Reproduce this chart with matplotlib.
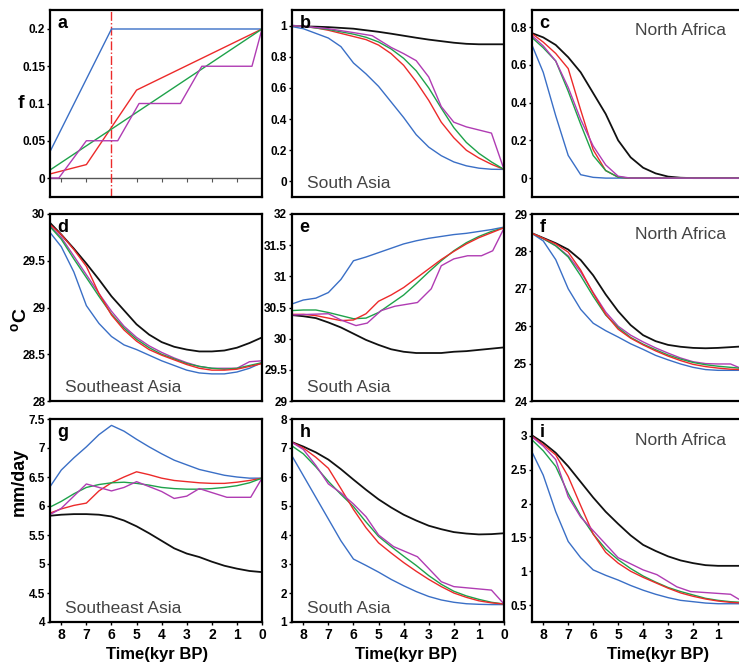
import matplotlib
matplotlib.use("Agg")
import matplotlib.pyplot as plt

plt.rcParams['font.family'] = ['Liberation Sans Narrow', 'Liberation Sans', 'DejaVu Sans']
plt.rcParams['mathtext.fontset'] = 'custom'
plt.rcParams['mathtext.bf'] = 'Liberation Sans:bold'

# common time grid (kyr BP)
t = [8.5, 8, 7.5, 7, 6.5, 6, 5.5, 5, 4.5, 4, 3.5, 3, 2.5, 2, 1.5, 1, 0.5, 0]
x_ticks = [8, 7, 6, 5, 4, 3, 2, 1, 0]

# ---- row 1: vegetation fraction f ----
a_black = [0] * len(t)
a_blue_t = [8.5, 6, 0]
a_blue = [0.032, 0.2, 0.2]
a_red_t = [8.5, 7, 5, 0]
a_red = [0.005, 0.018, 0.118, 0.2]
a_green_t = [8.5, 0]
a_green = [0.0096, 0.2]
a_mag_t = [8.5, 8.1, 7, 5.75, 4.9, 3.25, 2.4, 0.4, 0]
a_mag = [0, 0, 0.05, 0.05, 0.1, 0.1, 0.15, 0.15, 0.2]

b_black = [1.0, 0.995, 0.993, 0.99, 0.985, 0.98, 0.97, 0.96, 0.948, 0.935, 0.922, 0.91, 0.9, 0.89, 0.883, 0.88, 0.88, 0.88]
b_blue = [0.995, 0.98, 0.95, 0.92, 0.865, 0.76, 0.69, 0.61, 0.51, 0.41, 0.30, 0.22, 0.165, 0.125, 0.10, 0.085, 0.078, 0.077]
b_red = [1.0, 0.995, 0.985, 0.97, 0.95, 0.93, 0.91, 0.875, 0.82, 0.745, 0.64, 0.52, 0.38, 0.28, 0.2, 0.15, 0.11, 0.077]
b_green = [1.0, 0.995, 0.985, 0.975, 0.96, 0.945, 0.925, 0.895, 0.85, 0.79, 0.71, 0.6, 0.47, 0.345, 0.25, 0.18, 0.125, 0.077]
b_mag_t = [8.5, 8, 7, 6, 5.25, 4.5, 4, 3.5, 3, 2.5, 2, 1.5, 1, 0.5, 0]
b_mag = [1.0, 0.995, 0.98, 0.955, 0.935, 0.86, 0.82, 0.775, 0.67, 0.48, 0.38, 0.35, 0.33, 0.31, 0.077]

c_black = [0.77, 0.745, 0.705, 0.64, 0.56, 0.45, 0.34, 0.2, 0.11, 0.055, 0.025, 0.008, 0.002, 0, 0, 0, 0, 0]
c_blue = [0.72, 0.56, 0.33, 0.12, 0.018, 0.004, 0, 0, 0, 0, 0, 0, 0, 0, 0, 0, 0, 0]
c_red = [0.77, 0.72, 0.66, 0.58, 0.36, 0.15, 0.04, 0.005, 0, 0, 0, 0, 0, 0, 0, 0, 0, 0]
c_green = [0.75, 0.69, 0.62, 0.46, 0.285, 0.12, 0.04, 0.005, 0, 0, 0, 0, 0, 0, 0, 0, 0, 0]
c_mag = [0.76, 0.7, 0.62, 0.48, 0.31, 0.17, 0.07, 0.01, 0, 0, 0, 0, 0, 0, 0, 0, 0, 0]

# ---- row 2: temperature (oC) ----
d_black = [29.92, 29.78, 29.63, 29.47, 29.3, 29.12, 28.97, 28.82, 28.71, 28.63, 28.58, 28.55, 28.53, 28.53, 28.54, 28.57, 28.62, 28.68]
d_blue = [29.82, 29.65, 29.38, 29.02, 28.83, 28.69, 28.6, 28.55, 28.49, 28.43, 28.38, 28.33, 28.3, 28.29, 28.29, 28.31, 28.35, 28.41]
d_red = [29.9, 29.78, 29.62, 29.44, 29.15, 28.92, 28.76, 28.64, 28.55, 28.49, 28.44, 28.39, 28.35, 28.33, 28.33, 28.34, 28.37, 28.40]
d_green = [29.88, 29.73, 29.52, 29.32, 29.12, 28.93, 28.78, 28.66, 28.57, 28.5, 28.45, 28.4, 28.37, 28.35, 28.34, 28.35, 28.38, 28.41]
d_mag = [29.89, 29.75, 29.55, 29.35, 29.15, 28.96, 28.8, 28.68, 28.59, 28.52, 28.46, 28.41, 28.37, 28.35, 28.35, 28.35, 28.42, 28.43]

e_black = [30.38, 30.36, 30.33, 30.26, 30.18, 30.08, 29.98, 29.9, 29.83, 29.79, 29.77, 29.77, 29.77, 29.79, 29.8, 29.82, 29.84, 29.86]
e_blue = [30.55, 30.62, 30.65, 30.74, 30.95, 31.25, 31.31, 31.38, 31.45, 31.52, 31.57, 31.61, 31.64, 31.67, 31.69, 31.72, 31.75, 31.79]
e_red = [30.39, 30.39, 30.37, 30.33, 30.29, 30.30, 30.4, 30.6, 30.7, 30.82, 30.97, 31.12, 31.27, 31.4, 31.52, 31.62, 31.7, 31.78]
e_green = [30.45, 30.46, 30.46, 30.42, 30.37, 30.32, 30.33, 30.42, 30.56, 30.7, 30.88, 31.07, 31.25, 31.41, 31.54, 31.64, 31.72, 31.78]
e_mag_t = [8.5, 7, 6.5, 5.9, 5.45, 4.9, 4.35, 3.45, 2.9, 2.5, 2, 1.45, 0.9, 0.45, 0]
e_mag = [30.38, 30.40, 30.30, 30.21, 30.25, 30.45, 30.52, 30.58, 30.80, 31.17, 31.28, 31.33, 31.33, 31.41, 31.77]

f_black = [28.5, 28.36, 28.22, 28.05, 27.77, 27.36, 26.85, 26.4, 26.03, 25.76, 25.6, 25.5, 25.45, 25.42, 25.41, 25.42, 25.44, 25.46]
f_blue = [28.5, 28.28, 27.78, 27.0, 26.45, 26.08, 25.88, 25.71, 25.53, 25.38, 25.22, 25.1, 24.99, 24.9, 24.84, 24.82, 24.82, 24.82]
f_red = [28.5, 28.35, 28.2, 27.98, 27.5, 26.88, 26.32, 25.92, 25.68, 25.5, 25.34, 25.2, 25.08, 24.98, 24.92, 24.88, 24.85, 24.84]
f_green = [28.5, 28.34, 28.15, 27.85, 27.35, 26.8, 26.3, 25.96, 25.7, 25.52, 25.37, 25.23, 25.12, 25.03, 24.97, 24.93, 24.9, 24.87]
f_mag = [28.5, 28.34, 28.15, 27.88, 27.45, 26.9, 26.38, 26.0, 25.76, 25.58, 25.42, 25.28, 25.15, 25.05, 25.0, 24.99, 24.99, 24.85]

# ---- row 3: precipitation (mm/day) ----
g_black = [5.83, 5.85, 5.86, 5.86, 5.85, 5.82, 5.75, 5.65, 5.53, 5.4, 5.27, 5.18, 5.12, 5.04, 4.97, 4.92, 4.88, 4.86]
g_blue = [6.3, 6.62, 6.83, 7.02, 7.23, 7.39, 7.29, 7.15, 7.02, 6.9, 6.79, 6.71, 6.63, 6.58, 6.53, 6.5, 6.48, 6.48]
g_red = [5.87, 5.95, 6.01, 6.05, 6.26, 6.4, 6.5, 6.59, 6.54, 6.48, 6.44, 6.42, 6.4, 6.39, 6.39, 6.41, 6.44, 6.48]
g_green = [5.97, 6.08, 6.21, 6.32, 6.37, 6.4, 6.41, 6.39, 6.36, 6.32, 6.3, 6.29, 6.29, 6.3, 6.32, 6.35, 6.4, 6.48]
g_mag_t = [8.5, 8, 7, 6, 5.5, 5, 4, 3.5, 3, 2.5, 1.4, 0.45, 0]
g_mag = [5.84, 5.96, 6.38, 6.26, 6.32, 6.42, 6.25, 6.13, 6.17, 6.3, 6.15, 6.15, 6.48]

h_black = [7.22, 7.05, 6.85, 6.6, 6.27, 5.91, 5.56, 5.23, 4.95, 4.7, 4.5, 4.32, 4.2, 4.1, 4.05, 4.02, 4.03, 4.06]
h_blue = [6.8, 6.05, 5.3, 4.55, 3.8, 3.17, 2.95, 2.72, 2.47, 2.25, 2.05, 1.88, 1.76, 1.68, 1.63, 1.61, 1.6, 1.6]
h_red = [7.22, 7.0, 6.68, 6.3, 5.6, 4.88, 4.25, 3.73, 3.38, 3.05, 2.75, 2.47, 2.22, 2.0, 1.85, 1.73, 1.66, 1.62]
h_green = [7.1, 6.8, 6.35, 5.85, 5.4, 4.98, 4.45, 3.95, 3.6, 3.27, 2.95, 2.6, 2.3, 2.06, 1.9, 1.78, 1.68, 1.62]
h_mag_t = [8.5, 8, 7.5, 7, 6.5, 6, 5.5, 5, 4.4, 3.45, 2.5, 2, 0.5, 0]
h_mag = [7.22, 6.95, 6.4, 5.76, 5.45, 5.07, 4.63, 4.0, 3.6, 3.25, 2.39, 2.22, 2.1, 1.62]

i_black = [3.02, 2.9, 2.75, 2.55, 2.32, 2.09, 1.88, 1.7, 1.53, 1.39, 1.3, 1.22, 1.16, 1.12, 1.09, 1.08, 1.08, 1.08]
i_blue = [2.8, 2.42, 1.88, 1.44, 1.2, 1.02, 0.94, 0.87, 0.79, 0.72, 0.66, 0.61, 0.57, 0.55, 0.53, 0.52, 0.52, 0.52]
i_red = [3.01, 2.87, 2.72, 2.4, 1.97, 1.55, 1.28, 1.12, 1.0, 0.91, 0.83, 0.75, 0.68, 0.63, 0.59, 0.56, 0.54, 0.53]
i_green = [2.96, 2.78, 2.55, 2.15, 1.82, 1.55, 1.33, 1.17, 1.04, 0.93, 0.84, 0.76, 0.7, 0.65, 0.6, 0.57, 0.55, 0.54]
i_mag_t = [8.5, 8, 7.5, 7, 6.5, 6, 5.5, 5, 4, 3.45, 2.65, 2.1, 0.5, 0]
i_mag = [3.0, 2.85, 2.65, 2.1, 1.8, 1.6, 1.4, 1.2, 1.02, 0.95, 0.77, 0.7, 0.66, 0.55]

BLACK = '#111111'
BLUE = '#3a6fc6'
RED = '#ec2a2a'
GREEN = '#1ea24a'
MAG = '#b03cb3'
GRAY = '#444444'

W, H = 739, 671
fig = plt.figure(figsize=(W / 100, H / 100), dpi=100)

cols = [(50, 262), (292, 504), (532, 743)]
rows = [(10, 197), (214, 401), (419, 622)]
xlabel_x = [157, 406, 658]


def make_ax(r, c):
    x0, x1 = cols[c]
    y0, y1 = rows[r]
    return fig.add_axes([x0 / W, 1 - y1 / H, (x1 - x0) / W, (y1 - y0) / H])


def style(ax, ylim, yticks, ylabels, letter, col=None, xt=x_ticks):
    ax.set_xlim(8.45, 0)
    ax.set_ylim(*ylim)
    ax.set_yticks(yticks)
    ax.set_yticklabels(ylabels)
    for s in ax.spines.values():
        s.set_linewidth(1.6)
    ax.tick_params(axis='y', direction='out', length=2.5, width=1, pad=1,
                   labelsize=8.5)
    for lab in ax.get_yticklabels():
        lab.set_fontweight('bold')
    if col is not None:
        ax.set_xticks(xt)
        ax.set_xticklabels([str(v) for v in xt])
        ax.tick_params(axis='x', direction='out', length=2.5, width=1, pad=2,
                       labelsize=10)
        for lab in ax.get_xticklabels():
            lab.set_fontweight('bold')
        fig.text(xlabel_x[col] / W, 1 - 655 / H, 'Time(kyr BP)', ha='center',
                 va='center', fontsize=12, fontweight='bold')
    else:
        ax.set_xticks([])
    ax.text(0.035, 0.975, letter, transform=ax.transAxes, ha='left', va='top',
            fontsize=13, fontweight='bold')


def region(ax, name, where):
    if where == 'tr':
        ax.text(0.49, 0.93, name, transform=ax.transAxes, ha='left', va='top',
                fontsize=12.5, color=GRAY)
    else:
        ax.text(0.07, 0.03, name, transform=ax.transAxes, ha='left', va='bottom',
                fontsize=12.5, color=GRAY)


lw = 1.0

# panel a
ax = make_ax(0, 0)
ax.plot(t, a_black, color='#555555', lw=1.0, marker=3, markersize=3,
        markevery=(1, 2), mew=0.8)
ax.axvline(6, color=RED, lw=1.0, ls='-.')
ax.plot(a_blue_t, a_blue, color=BLUE, lw=lw)
ax.plot(a_red_t, a_red, color=RED, lw=lw)
ax.plot(a_green_t, a_green, color=GREEN, lw=lw)
ax.plot(a_mag_t, a_mag, color=MAG, lw=lw)
style(ax, (-0.0255, 0.2255), [0, 0.05, 0.1, 0.15, 0.2],
      ['0', '0.05', '0.1', '0.15', '0.2'], 'a')

# panel b
ax = make_ax(0, 1)
ax.plot(t, b_black, color=BLACK, lw=1.3)
ax.plot(t, b_blue, color=BLUE, lw=lw)
ax.plot(t, b_red, color=RED, lw=lw)
ax.plot(t, b_green, color=GREEN, lw=lw)
ax.plot(b_mag_t, b_mag, color=MAG, lw=lw)
style(ax, (-0.1, 1.1), [0, 0.2, 0.4, 0.6, 0.8, 1],
      ['0', '0.2', '0.4', '0.6', '0.8', '1'], 'b')
region(ax, 'South Asia', 'bl')

# panel c
ax = make_ax(0, 2)
ax.plot(t, c_black, color=BLACK, lw=1.3)
ax.plot(t, c_blue, color=BLUE, lw=lw)
ax.plot(t, c_red, color=RED, lw=lw)
ax.plot(t, c_green, color=GREEN, lw=lw)
ax.plot(t, c_mag, color=MAG, lw=lw)
style(ax, (-0.1, 0.89), [0, 0.2, 0.4, 0.6, 0.8],
      ['0', '0.2', '0.4', '0.6', '0.8'], 'c')
region(ax, 'North Africa', 'tr')

# panel d
ax = make_ax(1, 0)
ax.plot(t, d_black, color=BLACK, lw=1.3)
ax.plot(t, d_blue, color=BLUE, lw=lw)
ax.plot(t, d_mag, color=MAG, lw=lw)
ax.plot(t, d_green, color=GREEN, lw=lw)
ax.plot(t, d_red, color=RED, lw=lw)
style(ax, (28, 30), [28, 28.5, 29, 29.5, 30],
      ['28', '28.5', '29', '29.5', '30'], 'd')
region(ax, 'Southeast Asia', 'bl')

# panel e
ax = make_ax(1, 1)
ax.plot(t, e_black, color=BLACK, lw=1.3)
ax.plot(t, e_blue, color=BLUE, lw=lw)
ax.plot(t, e_green, color=GREEN, lw=lw)
ax.plot(t, e_red, color=RED, lw=lw)
ax.plot(e_mag_t, e_mag, color=MAG, lw=lw)
style(ax, (29, 32), [29, 29.5, 30, 30.5, 31, 31.5, 32],
      ['29', '29.5', '30', '30.5', '31', '31.5', '32'], 'e')
region(ax, 'South Asia', 'bl')

# panel f
ax = make_ax(1, 2)
ax.plot(t, f_black, color=BLACK, lw=1.3)
ax.plot(t, f_blue, color=BLUE, lw=lw)
ax.plot(t, f_mag, color=MAG, lw=lw)
ax.plot(t, f_green, color=GREEN, lw=lw)
ax.plot(t, f_red, color=RED, lw=lw)
style(ax, (24, 29), [24, 25, 26, 27, 28, 29],
      ['24', '25', '26', '27', '28', '29'], 'f')
region(ax, 'North Africa', 'tr')

# panel g
ax = make_ax(2, 0)
ax.plot(t, g_black, color=BLACK, lw=1.3)
ax.plot(t, g_blue, color=BLUE, lw=lw)
ax.plot(t, g_red, color=RED, lw=lw)
ax.plot(t, g_green, color=GREEN, lw=lw)
ax.plot(g_mag_t, g_mag, color=MAG, lw=lw)
style(ax, (4, 7.5), [4, 4.5, 5, 5.5, 6, 6.5, 7, 7.5],
      ['4', '4.5', '5', '5.5', '6', '6.5', '7', '7.5'], 'g', col=0)
region(ax, 'Southeast Asia', 'bl')

# panel h
ax = make_ax(2, 1)
ax.plot(t, h_black, color=BLACK, lw=1.3)
ax.plot(t, h_blue, color=BLUE, lw=lw)
ax.plot(t, h_green, color=GREEN, lw=lw)
ax.plot(t, h_red, color=RED, lw=lw)
ax.plot(h_mag_t, h_mag, color=MAG, lw=lw)
style(ax, (1, 8), [1, 2, 3, 4, 5, 6, 7, 8],
      ['1', '2', '3', '4', '5', '6', '7', '8'], 'h', col=1)
region(ax, 'South Asia', 'bl')

# panel i (right edge runs off the figure, so "0" is not shown)
ax = make_ax(2, 2)
ax.plot(t, i_black, color=BLACK, lw=1.3)
ax.plot(t, i_blue, color=BLUE, lw=lw)
ax.plot(t, i_green, color=GREEN, lw=lw)
ax.plot(t, i_red, color=RED, lw=lw)
ax.plot(i_mag_t, i_mag, color=MAG, lw=lw)
style(ax, (0.25, 3.25), [0.5, 1, 1.5, 2, 2.5, 3],
      ['0.5', '1', '1.5', '2', '2.5', '3'], 'i', col=2, xt=x_ticks[:-1])
region(ax, 'North Africa', 'tr')

# row labels on the left
fig.text(21 / W, 1 - 104 / H, 'f', ha='center', va='center',
         fontsize=14, fontweight='bold')
fig.text(20 / W, 1 - 320 / H, r'$\mathbf{^{o}}$C', ha='center', va='center',
         fontsize=14, fontweight='bold', rotation=90)
fig.text(19 / W, 1 - 482 / H, 'mm/day', ha='center', va='center',
         fontsize=13, fontweight='bold', rotation=90)

fig.savefig('out.png', dpi=100)
